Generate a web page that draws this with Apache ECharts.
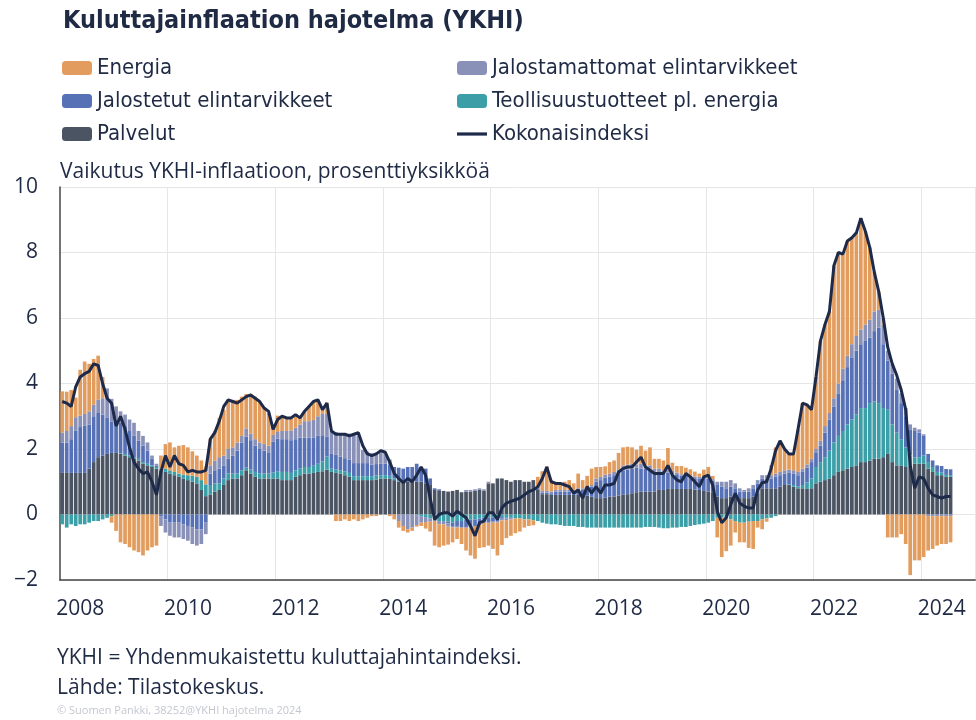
<!DOCTYPE html>
<html><head><meta charset="utf-8">
<script src="https://cdn.jsdelivr.net/npm/echarts@6/dist/echarts.min.js"></script>
<style>html,body{margin:0;padding:0;background:#fff}#c{width:976px;height:720px}</style>
</head><body><div id="c"></div>
<script>
// Monthly data, Jan 2008 .. Jul 2024 (percentage-point contributions)
const palvelut = [
 1.27,1.27,1.27,1.27,1.27,1.27,1.4,1.6,1.75,1.8,1.85,1.88,
 1.88,1.85,1.8,1.75,1.7,1.65,1.55,1.5,1.45,1.4,1.35,1.3,
 1.25,1.2,1.15,1.1,1.05,1.0,0.95,0.75,0.56,0.6,0.7,0.75,
 0.9,1.05,1.1,1.1,1.2,1.35,1.25,1.15,1.1,1.1,1.1,1.1,
 1.1,1.05,1.05,1.05,1.15,1.2,1.25,1.25,1.27,1.3,1.32,1.37,
 1.3,1.27,1.25,1.2,1.15,1.05,1.05,1.05,1.05,1.05,1.07,1.1,
 1.1,1.1,1.05,1.0,1.0,1.0,1.0,1.0,1.0,0.95,0.9,0.75,
 0.72,0.72,0.7,0.72,0.75,0.68,0.7,0.7,0.72,0.75,0.72,0.95,
 0.95,1.1,1.1,1.05,1.0,1.05,1.05,1.0,1.0,1.05,0.75,0.62,
 0.62,0.6,0.6,0.6,0.6,0.6,0.6,0.6,0.6,0.58,0.55,0.5,
 0.5,0.52,0.55,0.55,0.58,0.6,0.62,0.65,0.68,0.7,0.7,0.7,
 0.7,0.75,0.75,0.78,0.78,0.78,0.78,0.78,0.78,0.76,0.75,0.72,
 0.7,0.68,0.55,0.5,0.5,0.55,0.55,0.5,0.5,0.5,0.55,0.65,
 0.8,0.8,0.8,0.8,0.85,0.9,0.9,0.85,0.8,0.8,0.78,0.8,
 0.95,1.0,1.05,1.1,1.2,1.3,1.35,1.4,1.45,1.5,1.6,1.6,
 1.65,1.7,1.7,1.75,1.85,1.6,1.5,1.5,1.45,1.5,1.55,1.55,
 1.55,1.4,1.3,1.2,1.2,1.15,1.15
];
const teollisuus = [
 -0.3,-0.4,-0.3,-0.35,-0.3,-0.3,-0.25,-0.2,-0.2,-0.15,-0.1,-0.05,
 0.0,0.02,0.05,0.05,0.05,0.05,0.05,0.05,0.05,0.05,0.05,0.1,
 0.1,0.1,0.1,0.12,0.15,0.18,0.2,0.3,0.36,0.3,0.25,0.2,
 0.2,0.2,0.15,0.15,0.15,0.08,0.12,0.15,0.15,0.15,0.15,0.18,
 0.22,0.25,0.25,0.22,0.2,0.2,0.2,0.2,0.22,0.25,0.3,0.4,
 0.1,0.1,0.1,0.12,0.12,0.12,0.12,0.12,0.12,0.12,0.12,0.1,
 0.1,0.08,0.05,0.03,0.0,0.0,0.0,-0.02,-0.05,-0.08,-0.12,-0.15,
 -0.2,-0.2,-0.22,-0.25,-0.2,-0.2,-0.15,-0.15,-0.15,-0.12,-0.1,-0.1,
 -0.1,-0.1,-0.08,-0.1,-0.1,-0.12,-0.12,-0.15,-0.15,-0.18,-0.2,-0.25,
 -0.28,-0.3,-0.3,-0.32,-0.35,-0.35,-0.35,-0.38,-0.38,-0.4,-0.4,-0.4,
 -0.4,-0.4,-0.4,-0.4,-0.4,-0.4,-0.4,-0.4,-0.4,-0.4,-0.38,-0.38,
 -0.38,-0.4,-0.42,-0.42,-0.4,-0.4,-0.38,-0.38,-0.35,-0.32,-0.3,-0.28,
 -0.25,-0.2,-0.1,-0.1,-0.12,-0.15,-0.2,-0.25,-0.25,-0.22,-0.2,-0.2,
 -0.15,-0.12,-0.1,-0.05,0.0,0.0,0.02,0.05,0.05,0.1,0.2,0.3,
 0.5,0.6,0.7,0.85,1.0,1.1,1.2,1.35,1.45,1.55,1.65,1.65,
 1.75,1.75,1.7,1.5,1.35,1.15,1.0,0.8,0.6,0.3,0.2,0.2,
 0.25,0.2,0.15,0.1,0.08,0.06,0.05
];
const jalostetut = [
 0.93,0.93,1.03,1.3,1.4,1.45,1.35,1.4,1.35,1.25,1.1,0.95,
 1.02,0.93,0.85,0.75,0.65,0.55,0.5,0.4,0.2,0.05,-0.05,-0.15,
 -0.25,-0.25,-0.25,-0.3,-0.35,-0.4,-0.45,-0.45,-0.25,0.35,0.4,0.45,
 0.4,0.45,0.55,0.7,0.85,0.95,0.9,0.8,0.75,0.7,0.65,0.95,
 1.0,1.0,1.0,1.0,0.95,0.95,0.9,0.9,0.85,0.85,0.8,0.6,
 0.45,0.45,0.42,0.4,0.4,0.4,0.4,0.4,0.4,0.35,0.35,0.35,
 0.35,0.35,0.35,0.4,0.4,0.45,0.45,0.55,0.45,0.45,0.2,0.05,
 0.05,0.0,-0.05,-0.1,-0.15,-0.2,-0.25,-0.25,-0.2,-0.2,-0.15,-0.15,
 -0.1,-0.1,-0.05,-0.02,0.0,0.0,0.0,0.0,0.0,0.0,0.05,0.05,
 0.05,0.05,0.1,0.1,0.1,0.1,0.1,0.15,0.15,0.2,0.3,0.5,
 0.55,0.6,0.6,0.65,0.7,0.75,0.75,0.75,0.75,0.7,0.7,0.7,
 0.6,0.55,0.5,0.5,0.45,0.45,0.4,0.4,0.35,0.35,0.35,0.4,
 0.4,0.35,0.35,0.35,0.3,0.3,0.25,0.2,0.2,0.2,0.25,0.3,
 0.3,0.3,0.3,0.35,0.35,0.35,0.35,0.35,0.35,0.4,0.45,0.5,
 0.45,0.5,0.75,0.95,1.1,1.3,1.55,1.75,1.9,1.95,1.95,2.05,
 2.0,2.15,2.3,1.95,1.5,1.55,1.3,1.1,0.95,0.8,0.8,0.75,
 0.6,0.25,0.2,0.2,0.2,0.18,0.18
];
const jalostamattomat = [
 0.3,0.35,0.4,0.4,0.35,0.35,0.4,0.35,0.4,0.5,0.9,0.7,
 0.4,0.35,0.35,0.35,0.4,0.3,0.3,0.25,0.1,0.05,-0.3,-0.4,
 -0.4,-0.45,-0.45,-0.45,-0.45,-0.5,-0.5,-0.45,-0.35,0.25,0.3,0.35,
 0.3,0.3,0.25,0.25,0.2,0.25,0.2,0.2,0.2,0.2,0.2,0.2,
 0.2,0.25,0.25,0.3,0.35,0.4,0.5,0.5,0.55,0.6,0.65,0.7,
 0.7,0.7,0.7,0.75,0.8,0.9,0.85,0.4,0.35,0.35,0.35,0.35,
 0.3,0.15,0.0,-0.2,-0.35,-0.45,-0.4,-0.3,-0.2,-0.15,-0.1,-0.05,
 -0.1,-0.1,-0.1,-0.05,-0.05,0.0,0.05,0.05,0.05,0.05,0.05,0.05,
 -0.05,-0.05,-0.05,-0.05,-0.05,0.0,0.0,0.0,0.0,0.0,0.05,0.05,
 0.05,0.05,0.05,0.05,0.05,0.05,0.05,0.05,0.05,0.05,0.05,0.1,
 0.1,0.1,0.1,0.1,0.1,0.15,0.15,0.15,0.1,0.15,0.1,0.1,
 0.1,0.1,0.1,0.1,0.1,0.05,0.05,0.05,0.05,0.05,0.05,0.05,
 0.05,0.05,0.1,0.15,0.2,0.2,0.15,0.1,0.05,0.1,0.1,0.1,
 0.1,0.1,0.1,0.1,0.1,0.1,0.1,0.1,0.1,0.1,0.1,0.1,
 0.1,0.15,0.2,0.2,0.25,0.3,0.35,0.35,0.4,0.45,0.45,0.5,
 0.55,0.6,0.55,0.6,0.3,0.3,0.35,0.3,0.25,0.15,0.1,0.1,
 0.05,-0.05,-0.05,-0.05,-0.05,-0.05,-0.05
];
const energia = [
 1.26,1.2,1.1,0.6,1.4,1.6,1.45,1.4,1.35,0.65,0.0,-0.2,
 -0.5,-0.85,-0.9,-1.0,-1.1,-1.15,-1.25,-1.1,-1.0,-0.95,0.4,0.75,
 0.85,0.75,0.85,0.9,0.85,0.75,0.65,0.6,0.55,0.8,0.9,1.2,
 1.4,1.5,1.45,1.3,1.2,1.05,1.2,1.3,1.25,1.1,1.0,0.3,
 0.5,0.45,0.4,0.4,0.4,0.25,0.3,0.45,0.55,0.5,0.15,0.35,
 0.0,-0.2,-0.2,-0.15,-0.2,-0.15,-0.2,-0.15,-0.1,-0.05,-0.05,0.0,
 0.05,-0.05,-0.15,-0.2,-0.15,-0.1,-0.1,-0.05,-0.1,-0.2,-0.3,-0.75,
 -0.7,-0.65,-0.55,-0.45,-0.35,-0.5,-0.7,-0.85,-1.0,-0.7,-0.75,-0.7,
 -0.8,-1.0,-0.75,-0.55,-0.5,-0.45,-0.4,-0.25,-0.2,-0.15,0.3,0.6,
 0.75,0.35,0.25,0.2,0.25,0.3,0.2,0.45,0.25,0.35,0.5,0.35,
 0.3,0.25,0.35,0.35,0.5,0.55,0.55,0.5,0.45,0.55,0.45,0.55,
 0.3,0.3,0.3,0.65,0.25,0.2,0.25,0.2,0.2,0.15,0.1,0.2,
 0.3,0.1,-0.6,-1.2,-1.0,-0.8,-0.35,-0.6,-0.6,-0.8,-0.85,-0.2,
 -0.3,-0.1,0.3,0.8,0.95,0.65,0.5,0.5,1.3,2.0,1.8,1.5,
 2.2,3.05,3.1,3.1,4.05,4.0,3.5,3.5,3.25,3.15,3.4,2.85,
 2.2,1.2,0.55,0.2,-0.7,-0.7,-0.7,-0.6,-0.9,-1.85,-1.4,-1.4,
 -1.3,-1.05,-1.0,-0.9,-0.85,-0.85,-0.8
];
const kokonaisindeksi = [
 3.45,3.4,3.3,3.9,4.2,4.3,4.37,4.6,4.55,4.0,3.55,3.4,
 2.7,3.0,2.6,2.05,1.6,1.4,1.25,1.3,1.0,0.6,1.3,1.8,
 1.45,1.8,1.55,1.5,1.3,1.35,1.3,1.3,1.35,2.3,2.5,2.85,
 3.3,3.5,3.45,3.4,3.5,3.6,3.65,3.55,3.45,3.25,3.15,2.6,
 2.9,3.0,2.95,2.95,3.05,2.95,3.15,3.3,3.45,3.5,3.2,3.4,
 2.55,2.45,2.45,2.45,2.4,2.45,2.5,2.1,1.85,1.8,1.85,1.95,
 1.9,1.6,1.25,1.1,0.97,1.1,1.0,1.2,1.45,1.2,0.5,-0.15,
 0.0,0.05,0.05,-0.05,0.1,0.0,-0.1,-0.35,-0.65,-0.25,-0.2,0.05,
 0.05,-0.15,0.2,0.35,0.4,0.45,0.5,0.6,0.7,0.75,0.85,1.1,
 1.45,1.0,0.95,0.95,0.9,0.85,0.65,0.75,0.5,0.85,0.65,0.85,
 0.65,0.9,0.9,0.95,1.3,1.4,1.45,1.45,1.6,1.75,1.45,1.35,
 1.25,1.25,1.25,1.5,1.2,1.05,1.0,1.25,1.15,1.0,0.85,1.15,
 1.2,0.9,0.1,-0.25,-0.1,0.3,0.65,0.35,0.25,0.2,0.2,0.75,
 0.97,1.0,1.4,1.95,2.25,2.0,1.85,1.85,2.6,3.4,3.35,3.2,
 4.2,5.3,5.8,6.2,7.6,8.0,7.95,8.35,8.45,8.6,9.05,8.65,
 8.15,7.4,6.8,6.0,5.1,4.6,4.25,3.8,3.2,1.5,0.8,1.15,
 1.1,0.8,0.6,0.55,0.5,0.55,0.55
];
const yearLabels = ['2008','2010','2012','2014','2016','2018','2020','2022','2024'];
const firstYear = 2008, lastYear = 2024;

const months = [];
for (let y = firstYear; y <= lastYear; y++) for (let m = 1; m <= 12; m++) months.push(y + '-' + (m < 10 ? '0' + m : m));

const C = {
  energia: '#E29C5E', jalostamattomat: '#8A91B8', jalostetut: '#5771B6',
  teollisuus: '#3C9FA8', palvelut: '#4A5463', line: '#1D2A4A', text: '#1F2A44'
};
const narrow = '"DejaVu Sans Condensed", "Liberation Sans Narrow", Lato, sans-serif';
const body = '"Open Sans", "Noto Sans", sans-serif';

const chart = echarts.init(document.getElementById('c'), null, {renderer: 'canvas'});
const barBase = {type: 'bar', stack: 'a', barCategoryGap: '18%', barGap: '-100%', emphasis: {disabled: true}};
const legendText = {fontFamily: narrow, fontSize: 22, color: C.text, lineHeight: 22};
chart.setOption({
  animation: false,
  textStyle: {fontFamily: body},
  title: [
    {text: 'Kuluttajainflaation hajotelma (YKHI)', left: 58, top: 4,
     textStyle: {fontFamily: narrow, fontWeight: 'bold', fontSize: 25, color: C.text}},
    {text: 'Vaikutus YKHI-inflaatioon, prosenttiyksikköä', left: 55, top: 157, padding: [5, 5],
     textStyle: {fontFamily: body, fontWeight: 'normal', fontSize: 21, color: C.text}},
    {text: 'YKHI = Yhdenmukaistettu kuluttajahintaindeksi.', left: 52, top: 643,
     textStyle: {fontFamily: body, fontWeight: 'normal', fontSize: 21, color: C.text}},
    {text: 'Lähde: Tilastokeskus.', left: 52, top: 673,
     textStyle: {fontFamily: body, fontWeight: 'normal', fontSize: 21, color: C.text}},
    {text: '© Suomen Pankki, 38252@YKHI hajotelma 2024', left: 52, top: 700,
     textStyle: {fontFamily: body, fontWeight: 'normal', fontSize: 11, color: '#c4c7cf'}}
  ],
  legend: [
    {orient: 'vertical', left: 62, top: 57, padding: 0, itemWidth: 30, itemHeight: 14, itemGap: 11,
     data: ['Energia', 'Jalostetut elintarvikkeet', 'Palvelut'], textStyle: legendText},
    {orient: 'vertical', left: 457, top: 57, padding: 0, itemWidth: 30, itemHeight: 14, itemGap: 11,
     data: ['Jalostamattomat elintarvikkeet', 'Teollisuustuotteet pl. energia',
            {name: 'Kokonaisindeksi', icon: 'path://M0,0 L28,0 L28,3 L0,3 Z'}],
     textStyle: legendText}
  ],
  grid: {left: 60, right: 0, top: 187, bottom: 140, containLabel: false},
  xAxis: {
    type: 'category', data: months, boundaryGap: true,
    axisLine: {show: true, onZero: false, lineStyle: {color: '#444', width: 1.5}},
    axisTick: {show: false},
    axisLabel: {
      interval: 0, align: 'left', margin: 19, fontSize: 21, color: C.text, fontFamily: body,
      padding: [0, 0, 0, -6],
      formatter: function (v) { const p = v.split('-'); return (p[1] === '01' && yearLabels.indexOf(p[0]) >= 0) ? p[0] : ''; }
    },
    splitLine: {show: true, interval: function (i) { return i % 24 === 0 && i > 0; }, lineStyle: {color: '#e6e6e6'}}
  },
  yAxis: {
    type: 'value', min: -2, max: 10, interval: 2,
    axisLine: {show: true, lineStyle: {color: '#444', width: 1.5}},
    axisTick: {show: false},
    axisLabel: {margin: 22, fontSize: 21, color: C.text, fontFamily: body,
      formatter: function (v) { return String(v).replace('-', '−'); }},
    splitLine: {lineStyle: {color: '#e6e6e6'}}
  },
  series: [
    Object.assign({}, barBase, {name: 'Palvelut', data: palvelut, itemStyle: {color: C.palvelut}}),
    Object.assign({}, barBase, {name: 'Teollisuustuotteet pl. energia', data: teollisuus, itemStyle: {color: C.teollisuus}}),
    Object.assign({}, barBase, {name: 'Jalostetut elintarvikkeet', data: jalostetut, itemStyle: {color: C.jalostetut}}),
    Object.assign({}, barBase, {name: 'Jalostamattomat elintarvikkeet', data: jalostamattomat, itemStyle: {color: C.jalostamattomat}}),
    Object.assign({}, barBase, {name: 'Energia', data: energia, itemStyle: {color: C.energia}}),
    {type: 'line', name: 'Kokonaisindeksi', data: kokonaisindeksi, showSymbol: false, symbol: 'none', z: 10,
     lineStyle: {color: C.line, width: 3}, itemStyle: {color: C.line}, emphasis: {disabled: true}}
  ]
});
</script></body></html>
